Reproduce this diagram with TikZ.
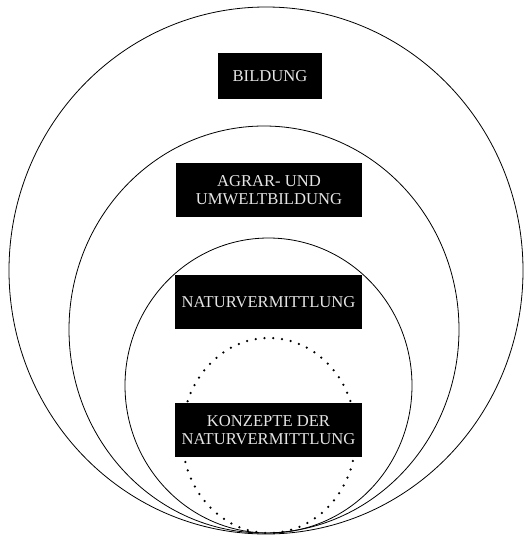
\documentclass[tikz,border=0pt]{standalone}
\usepackage{fontspec}
\setmainfont{Liberation Serif}
\tikzset{
  ringline/.style={line width=0.8pt},
  dotring/.style={line width=2.5pt, line cap=round, dash pattern=on 0pt off 8.8pt},
  tagbox/.style={fill=black, text=white!90!black, align=center, inner sep=0pt,
    minimum width=187pt, minimum height=54pt,
    font=\fontsize{16.6}{18.5}\selectfont}
}
\begin{document}
\begin{tikzpicture}[x=1pt,y=-1pt]
        \useasboundingbox (0,0) rectangle (532,536);
        \draw[ringline] (266,270.5) ellipse [x radius=257pt, y radius=263.5pt];
        \draw[ringline] (264,329.5) ellipse [x radius=195pt, y radius=203.5pt];
        \draw[ringline] (268.5,385.5) ellipse [x radius=143.5pt, y radius=147.5pt];
        \draw[dotring] (269,435.5) ellipse [x radius=87pt, y radius=97.5pt];
        \node[tagbox, minimum width=104pt, minimum height=46pt] (bildung) at (270,76) {BILDUNG};
        \node[tagbox, minimum width=186pt] (agrar) at (269,190) {AGRAR- UND\\UMWELTBILDUNG};
        \node[tagbox] (natur) at (268.5,302) {NATURVERMITTLUNG};
        \node[tagbox] (konzepte) at (268.5,430) {KONZEPTE DER\\NATURVERMITTLUNG};
      \end{tikzpicture}
\end{document}
